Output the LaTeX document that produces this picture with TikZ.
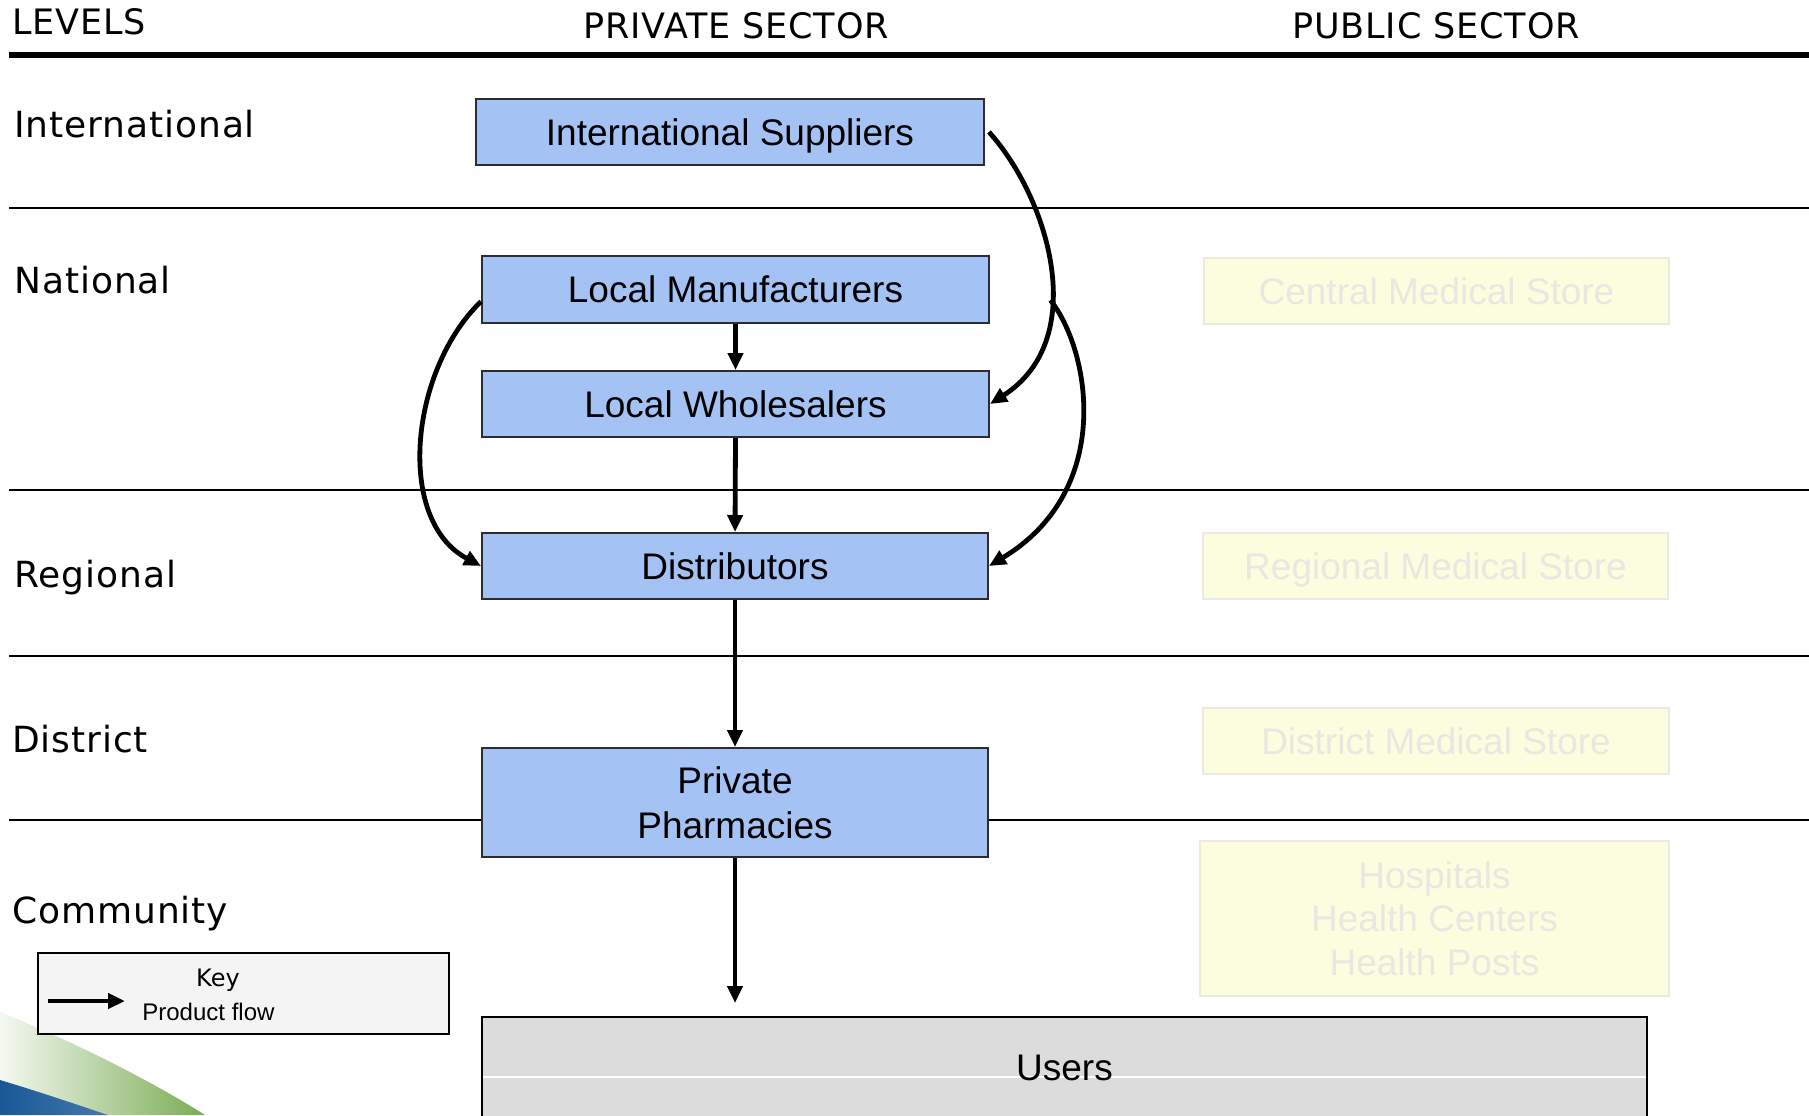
\documentclass[tikz,border=0pt]{standalone}
\usepackage{fontspec}
\setmainfont{Liberation Sans}
\newfontfamily\lblfont[LetterSpace=2.5]{DejaVu Sans}
\newfontfamily\hdrfont[LetterSpace=2.5]{DejaVu Sans}
\newfontfamily\keyfont{DejaVu Sans}
\usetikzlibrary{arrows.meta}
\definecolor{pblue}{RGB}{164,194,244}
\definecolor{pedge}{RGB}{45,45,45}
\definecolor{gfill}{RGB}{252,252,222}
\definecolor{gedge}{RGB}{234,234,222}
\definecolor{gtext}{RGB}{232,232,226}
\definecolor{ugrey}{RGB}{220,220,220}
\definecolor{keyfill}{RGB}{244,244,244}
\definecolor{swblue}{RGB}{24,88,150}
\definecolor{swgreen}{RGB}{122,172,84}
\begin{document}
\begin{tikzpicture}[x=0.5pt,y=-0.5pt,
  boxtxt/.style={font=\fontsize{18.5pt}{22.5pt}\selectfont},
  privbox/.style={draw=pedge, line width=1pt, fill=pblue, inner sep=0pt, boxtxt,
    text height=13.25pt, text depth=0pt},
  privmulti/.style={draw=pedge, line width=1pt, fill=pblue, inner sep=0pt, boxtxt, align=center},
  pubbox/.style={draw=gedge, line width=1pt, fill=gfill, text=gtext, inner sep=0pt, boxtxt,
    text height=13.25pt, text depth=0pt},
  pubmulti/.style={draw=gedge, line width=1pt, fill=gfill, text=gtext, inner sep=0pt, align=center,
    font=\fontsize{18.5pt}{21.75pt}\selectfont},
  lvl/.style={font=\lblfont\fontsize{18pt}{20pt}\selectfont, anchor=base west, inner sep=0pt},
  hdr/.style={font=\hdrfont\fontsize{17.5pt}{20pt}\selectfont, anchor=base, inner sep=0pt},
  sepline/.style={line width=1.4pt, black},
  flow/.style={line width=2.4pt, -{Triangle[length=8.5pt,width=7.5pt]}},
]
\useasboundingbox (0,0) rectangle (1809,1115);
\fill[white] (0,0) rectangle (1809,1115);

% swoosh decoration
\path[left color=swgreen!8!white, right color=swgreen]
  (0,1012) .. controls (70,1040) and (150,1080) .. (205,1115) -- (0,1115) -- cycle;
\path[left color=swblue, right color=swblue!80!white]
  (0,1080) .. controls (40,1092) and (75,1104) .. (108,1115) -- (0,1115) -- cycle;

% header
\node[hdr, anchor=base west] (hlev) at (12,34) {LEVELS};
\node[hdr] (hpriv) at (736,38) {PRIVATE SECTOR};
\node[hdr] (hpub) at (1436,38) {PUBLIC SECTOR};
\draw[line width=3pt] (9,55) -- (1809,55);

% level separators
\draw[sepline] (9,208) -- (1809,208);
\draw[sepline] (9,490) -- (1809,490);
\draw[sepline] (9,656) -- (1809,656);
\draw[sepline] (9,820) -- (1809,820);

% level labels
\node[lvl] (lint) at (14,137) {International};
\node[lvl] (lnat) at (14,293) {National};
\node[lvl] (lreg) at (14,587) {Regional};
\node[lvl] (ldis) at (12,752) {District};
\node[lvl] (lcom) at (12,923) {Community};

% private sector boxes
\node[privbox, minimum width=254pt, minimum height=33pt] (intl) at (730,132) {International Suppliers};
\node[privbox, minimum width=253.5pt, minimum height=33.5pt] (lm) at (735.5,289.5) {Local Manufacturers};
\node[privbox, minimum width=253.5pt, minimum height=33pt] (lw) at (735.5,404) {Local Wholesalers};
\node[privbox, minimum width=253pt, minimum height=33pt] (dist) at (735,566) {Distributors};
\node[privmulti, minimum width=253pt, minimum height=54.5pt] (pp) at (735,802.5) {Private\\Pharmacies};

% users
\node[draw=black, line width=1pt, fill=ugrey, inner sep=0pt, boxtxt,
  text height=13.25pt, text depth=0pt,
  minimum width=582.5pt, minimum height=50pt,
  path picture={\draw[white, line width=0.8pt]
    ([yshift=-5pt]path picture bounding box.west) -- ([yshift=-5pt]path picture bounding box.east);}]
  (users) at (1064.5,1067) {Users};

% public sector boxes
\node[pubbox, minimum width=232.5pt, minimum height=33pt] (cms) at (1436.5,291) {Central Medical Store};
\node[pubbox, minimum width=232.5pt, minimum height=33pt] (rms) at (1435.5,566) {Regional Medical Store};
\node[pubbox, minimum width=233pt, minimum height=33pt] (dms) at (1436,741) {District Medical Store};
\node[pubmulti, minimum width=234.5pt, minimum height=77.5pt] (hosp) at (1434.5,918.5) {Hospitals\\Health Centers\\Health Posts};

% product flows
\draw[flow] (lm.south) -- (lw.north);
\draw[flow] (lw.south) -- (dist.north);
\draw[flow] (dist.south) -- (pp.north);
\draw[flow, shorten >=6.5pt] (pp.south) -- (pp.south |- users.north);
\draw[flow] ([xshift=2pt]intl.east) .. controls (1050,200) and (1090,340) .. (lw.east) coordinate[pos=0.6] (branch);
\draw[flow] (branch) .. controls (1090,350) and (1115,490) .. (dist.east);
\draw[flow] ([yshift=-6pt]lm.west) .. controls (410,370) and (395,520) .. (dist.west);

% key
\node[draw=black, line width=1.25pt, fill=keyfill, minimum width=205.5pt, minimum height=40.5pt, inner sep=0pt] (key) at (243.5,993.5) {};
\node[font=\keyfont\fontsize{12pt}{14pt}\selectfont, anchor=base, inner sep=0pt] (keytitle) at (218,986) {Key};
\node[font=\fontsize{12pt}{14pt}\selectfont, anchor=base west, inner sep=0pt] (keytext) at (142,1020) {Product flow};
\coordinate (ka) at (48,1001);
\coordinate (kb) at (125,1001);
\draw[flow] (ka) -- (kb);
\end{tikzpicture}
\end{document}
